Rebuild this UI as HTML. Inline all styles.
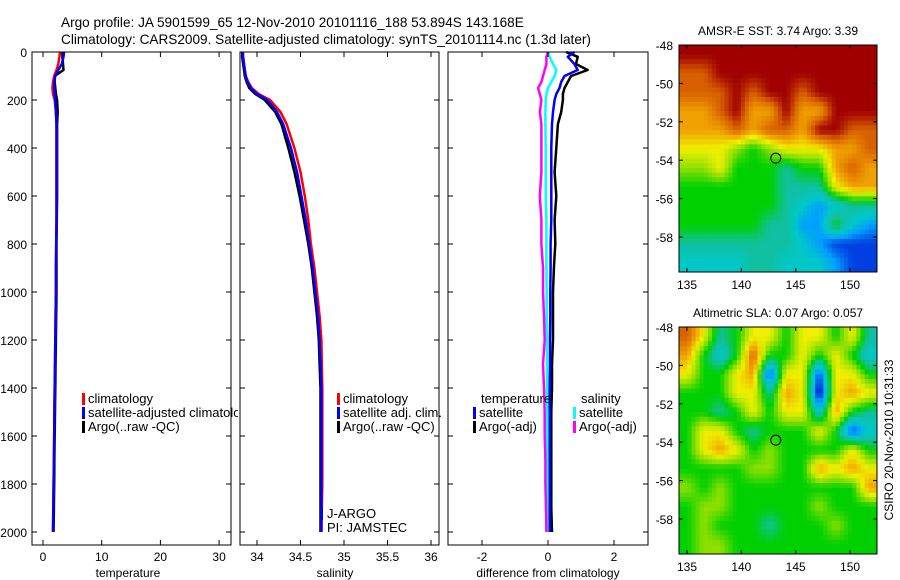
<!DOCTYPE html>
<html><head><meta charset="utf-8"><style>
html,body{margin:0;padding:0;background:#fff;}
svg{display:block;font-family:"Liberation Sans",sans-serif;}
</style></head><body>
<svg id="fig" width="900" height="580" viewBox="0 0 900 580">
<defs>
<clipPath id="clipP1"><rect x="32" y="52" width="206" height="493"/></clipPath>
<clipPath id="clipM1"><rect x="679" y="45" width="198" height="227"/></clipPath>
<clipPath id="clipM2"><rect x="679" y="327" width="198" height="227"/></clipPath>
</defs>
<text x="61" y="27" font-size="13.6">Argo profile: JA 5901599_65 12-Nov-2010 20101116_188 53.894S 143.168E</text>
<text x="61" y="44" font-size="13.6">Climatology: CARS2009. Satellite-adjusted climatology: synTS_20101114.nc (1.3d later)</text>
<g id="g"></g>
</svg>
<script>
// ---- profile data ----
const depths = [0,20,50,75,100,125,150,175,200,250,300,400,500,600,700,800,900,1000,1100,1200,1300,1400,1500,1600,1700,1800,1900,2000];
const tempClim = [2.9,2.8,2.6,2.3,1.9,1.7,1.6,1.7,2.0,2.2,2.3,2.3,2.3,2.3,2.3,2.25,2.2,2.2,2.15,2.1,2.05,2.0,1.95,1.9,1.85,1.8,1.75,1.7];
const tempSat = [3.6,3.5,3.2,2.6,2.1,1.9,1.9,2.0,2.1,2.2,2.3,2.3,2.3,2.3,2.3,2.25,2.2,2.2,2.15,2.1,2.05,2.0,1.95,1.9,1.85,1.8,1.75,1.7];
const tempArgo = [3.3,3.3,3.4,3.5,2.0,2.0,2.1,2.2,2.4,2.5,2.4,2.4,2.4,2.4,2.35,2.3,2.3,2.3,2.25,2.2,2.15,2.1,2.05,2.0,1.95,1.9,1.85,1.8];
const salClim = [33.84,33.84,33.85,33.86,33.87,33.9,33.94,34.02,34.15,34.27,34.34,34.43,34.50,34.55,34.59,34.62,34.66,34.69,34.72,34.74,34.745,34.75,34.75,34.75,34.75,34.75,34.745,34.74];
const salSat = [33.83,33.84,33.85,33.86,33.87,33.89,33.93,34.0,34.12,34.23,34.30,34.39,34.46,34.51,34.56,34.60,34.64,34.67,34.70,34.72,34.73,34.74,34.74,34.74,34.74,34.74,34.74,34.74];
const salArgo = [33.83,33.83,33.84,33.85,33.86,33.88,33.91,33.98,34.09,34.21,34.28,34.36,34.43,34.49,34.54,34.59,34.63,34.66,34.69,34.71,34.72,34.73,34.73,34.73,34.73,34.73,34.73,34.73];
const tDiffSat = [0.8,0.6,0.8,0.9,0.5,0.4,0.35,0.25,0.2,0.15,0.12,0.1,0.1,0.1,0.1,0.08,0.08,0.07,0.07,0.06,0.06,0.05,0.05,0.05,0.05,0.05,0.05,0.05];
const tDiffArgo = [0.55,0.9,0.85,1.2,0.7,0.6,0.5,0.45,0.45,0.4,0.3,0.25,0.2,0.25,0.2,0.22,0.18,0.15,0.15,0.15,0.12,0.12,0.1,0.1,0.1,0.1,0.1,0.12];
const sDiffSat = [0,0.05,0.15,0.25,0.2,0.1,0.0,-0.05,-0.07,-0.08,-0.08,-0.07,-0.07,-0.07,-0.05,-0.05,-0.05,-0.04,-0.04,-0.03,-0.03,-0.03,-0.02,-0.02,-0.02,-0.02,-0.02,-0.02];
const sDiffArgo = [0,-0.05,-0.05,-0.1,-0.15,-0.2,-0.3,-0.25,-0.2,-0.25,-0.2,-0.2,-0.2,-0.25,-0.2,-0.2,-0.15,-0.15,-0.12,-0.1,-0.15,-0.12,-0.1,-0.1,-0.08,-0.08,-0.06,-0.05];
const depthTicks = [0,200,400,600,800,1000,1200,1400,1600,1800,2000];
const tempTicks = [0,10,20,30];
const salTicks = [34,34.5,35,35.5,36];
const diffTicks = [-2,0,2];
// ---- map data (colour level indices 0..10) ----
const lonTicks = [135,140,145,150];
const latTicks = [-48,-50,-52,-54,-56,-58];
const sstGrid = [
[10,10,10,10,10,10,10,10,10,10,10,10],
[9,9,10,10,10,10,10,10,10,10,10,10],
[9,9,9,10,9,10,10,9,10,10,10,10],
[8,8,9,10,8,8,10,8,8,10,10,10],
[8,8,8,9,8,9,9,8,10,10,9,9],
[7,7,7,6,5,6,7,7,7,8,8,9],
[6,6,7,5,5,5,4,5,5,8,9,8],
[5,5,5,5,5,5,4,4,4,7,8,8],
[5,5,5,5,5,5,4,3,2,3,4,4],
[5,5,5,5,5,4,4,2,2,5,3,2],
[4,4,4,4,4,4,4,3,2,1,1,1],
[3,3,3,3,4,4,3,3,3,2,1,1]];
const slaGrid = [
[9,7,4,5,7,7,5,7,7,5,7,4],
[8,5,3,5,9,5,5,7,5,7,5,3],
[7,5,5,7,8,1,7,7,1,7,7,5],
[5,5,5,7,7,4,8,7,0,7,8,7],
[5,5,4,5,7,5,7,7,3,8,5,4],
[5,7,7,5,4,5,5,5,7,5,1,3],
[5,7,8,7,5,6,5,5,5,5,7,5],
[5,5,5,5,6,6,5,5,8,7,8,7],
[6,5,6,5,5,5,5,5,5,5,5,8],
[5,6,6,5,5,5,5,5,6,5,5,5],
[5,6,5,5,5,4,5,5,5,6,5,5],
[5,6,6,5,5,5,5,5,5,5,5,5]];
const argoLon = 143.168, argoLat = -53.894;

const palette = [[0,0,144],[0,64,224],[0,160,255],[0,200,200],[16,192,160],[0,208,0],[144,224,0],[240,240,0],[240,160,0],[216,96,0],[160,0,0]];
const NS='http://www.w3.org/2000/svg';
const g=document.getElementById('g');
function mk(tag,attrs,parent){const e=document.createElementNS(NS,tag);for(const k in attrs)e.setAttribute(k,attrs[k]);(parent||g).appendChild(e);return e;}
function txt(x,y,s,size,anchor,parent){const t=mk('text',{x:x,y:y,'font-size':size,'text-anchor':anchor||'start'},parent);t.textContent=s;return t;}
function colorOf(v){v=Math.max(0,Math.min(10,v));const i=Math.min(9,Math.floor(v)),f=v-i;const a=palette[i],b=palette[i+1];
  return 'rgb('+[0,1,2].map(k=>Math.round(a[k]+(b[k]-a[k])*f)).join(',')+')';}

const yD = d => 52 + d*0.24;
const panels = [
 {name:'temperature',x0:32,x1:231,fx:v=>43+(v)*5.87,ticks:tempTicks,label:'temperature',lx:128,
  series:[[tempArgo,'#000'],[tempClim,'#f00'],[tempSat,'#00f']]},
 {name:'salinity',x0:240,x1:439,fx:v=>257+(v-34)*87,ticks:salTicks,label:'salinity',lx:335,
  series:[[salArgo,'#000'],[salClim,'#f00'],[salSat,'#00f']]},
 {name:'difference',x0:448,x1:648,fx:v=>548+v*33,ticks:diffTicks,label:'difference from climatology',lx:548,
  series:[[tDiffArgo,'#000'],[tDiffSat,'#00f'],[sDiffSat,'#0ff'],[sDiffArgo,'#f0f']]}
];
panels.forEach((p,pi)=>{
  const pg=mk('g',{});
  
  
  mk('rect',{x:p.x0,y:52,width:p.x1-p.x0,height:493,fill:'#fff',stroke:'none'},pg);
  p.series.forEach(([arr,col])=>{
    const pts=depths.map((d,i)=>p.fx(arr[i]).toFixed(1)+','+yD(d).toFixed(1));
    const l=mk('polyline',{points:pts.join(' '),fill:'none',stroke:col,'stroke-width':2.5,'stroke-linejoin':'round'},pg);
    
    
  });
  mk('rect',{x:p.x0,y:52,width:p.x1-p.x0,height:493,fill:'none',stroke:'#000','stroke-width':1},pg);
  depthTicks.forEach(d=>{
    const y=yD(d);
    mk('line',{x1:p.x0,y1:y,x2:p.x0+5,y2:y,stroke:'#000'},pg);
    mk('line',{x1:p.x1,y1:y,x2:p.x1-5,y2:y,stroke:'#000'},pg);
    if(pi===0){const t=txt(27,y+5,String(d),12,'end',pg);}
  });
  p.ticks.forEach(v=>{
    const x=p.fx(v);
    mk('line',{x1:x,y1:52,x2:x,y2:57,stroke:'#000'},pg);
    mk('line',{x1:x,y1:545,x2:x,y2:540,stroke:'#000'},pg);
    const t=txt(x,561,String(v),12,'middle',pg);
    
    
  });
  const lab=txt(p.lx,577,p.label,12,'middle',pg);
  
  
});
function legItem(x,y,col,label,name,clip){
  const lg=mk('g',clip?{'clip-path':clip}:{});
  
  
  mk('rect',{x:x,y:y-10,width:3,height:12,fill:col},lg);
  txt(x+6,y,label,13,'start',lg);
}
legItem(82,403,'#f00','climatology','legend-climatology','url(#clipP1)');
legItem(82,417,'#00f','satellite-adjusted climatology','legend-satellite-adjusted','url(#clipP1)');
legItem(82,431,'#000','Argo(..raw -QC)','legend-argo','url(#clipP1)');
legItem(337,403,'#f00','climatology','legend-sal-climatology');
legItem(337,417,'#00f','satellite adj. clim.','legend-sal-satellite');
legItem(337,431,'#000','Argo(..raw -QC)','legend-sal-argo');
{const t=txt(481,403,'temperature',13);}
{const t=txt(581,403,'salinity',13);}
legItem(473,417,'#00f','satellite','legend-diff-t-satellite');
legItem(473,431,'#000','Argo(-adj)','legend-diff-t-argo');
legItem(573,417,'#0ff','satellite','legend-diff-s-satellite');
legItem(573,431,'#f0f','Argo(-adj)','legend-diff-s-argo');
{mk('rect',{x:320,y:508,width:3,height:12,fill:'#00f'});
 const t=txt(327,518,'J-ARGO',13);
 const t2=txt(327,532,'PI: JAMSTEC',13);}

function drawMap(grid,top,title,clip,name){
  const mg=mk('g',{});
  
  
  const x0=679,x1=877,h=227;
  const lonX=l=>687+(l-135)*10.87;
  const latY=l=>top+(-48-l)*19.2;
  const cg=mk('g',{'clip-path':clip},mg);
  const rows=grid.length,cols=grid[0].length;
  const S=4, nx=cols*S, ny=rows*S;
  const cw=(x1-x0)/nx, ch=h/ny;
  const at=(r,c)=>grid[Math.min(rows-1,Math.max(0,r))][Math.min(cols-1,Math.max(0,c))];
  for(let j=0;j<ny;j++)for(let i=0;i<nx;i++){
    const fr=(j+0.5)/S-0.5, fc=(i+0.5)/S-0.5;
    const r0=Math.floor(fr), c0=Math.floor(fc), tr=fr-r0, tc=fc-c0;
    const v=(at(r0,c0)*(1-tc)+at(r0,c0+1)*tc)*(1-tr)+(at(r0+1,c0)*(1-tc)+at(r0+1,c0+1)*tc)*tr;
    mk('rect',{x:(x0+i*cw).toFixed(2),y:(top+j*ch).toFixed(2),width:(cw+0.5).toFixed(2),height:(ch+0.5).toFixed(2),fill:colorOf(v)},cg);
  }
  mk('rect',{x:x0,y:top,width:x1-x0,height:h,fill:'none',stroke:'#000'},mg);
  lonTicks.forEach(l=>{const x=lonX(l);
    mk('line',{x1:x,y1:top,x2:x,y2:top+4,stroke:'#000'},mg);
    mk('line',{x1:x,y1:top+h,x2:x,y2:top+h-4,stroke:'#000'},mg);
    const t=txt(x,top+h+17,String(l),12,'middle',mg);});
  latTicks.forEach(l=>{const y=latY(l);
    mk('line',{x1:x0,y1:y,x2:x0+4,y2:y,stroke:'#000'},mg);
    mk('line',{x1:x1,y1:y,x2:x1-4,y2:y,stroke:'#000'},mg);
    const t=txt(673,y+5,String(l),12,'end',mg);});
  const m=mk('circle',{cx:lonX(argoLon),cy:latY(argoLat),r:5,fill:'none',stroke:'#000','stroke-width':1},mg);
  
  
  const tt=txt(778,top-10,title,12,'middle',mg);
  
  
}
drawMap(sstGrid,45,'AMSR-E SST: 3.74  Argo: 3.39','url(#clipM1)','sst-map');
drawMap(slaGrid,327,'Altimetric SLA: 0.07  Argo: 0.057','url(#clipM2)','sla-map');
{const t=txt(0,0,'CSIRO 20-Nov-2010 10:31:33',12,'middle');
 t.setAttribute('transform','translate(893,440) rotate(-90)');
 
 }
</script>
</body></html>
